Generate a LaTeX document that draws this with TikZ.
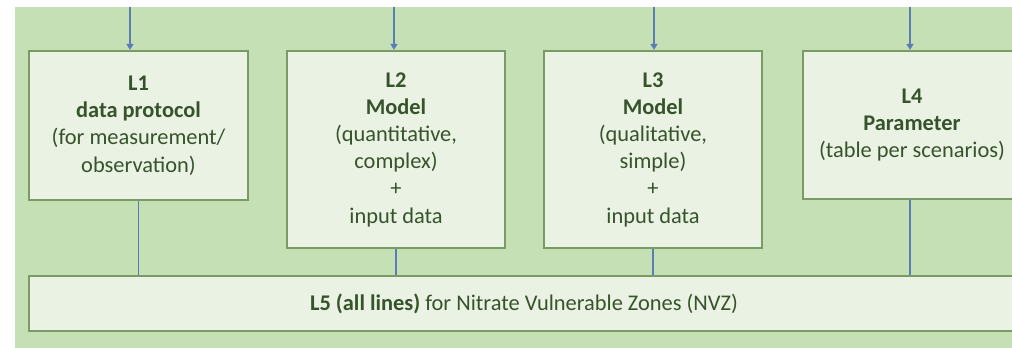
\documentclass[tikz,border=0pt]{standalone}
\usepackage{fontspec}
\setmainfont{Carlito}
\usetikzlibrary{arrows.meta}

\definecolor{bggreen}{HTML}{C5E0B4}
\definecolor{boxfill}{HTML}{EAF2E4}
\definecolor{boxedge}{HTML}{7A9A66}
\definecolor{txtgreen}{HTML}{37532B}
\definecolor{linkblue}{HTML}{5A7DB8}

\tikzset{
  level/.style={draw=boxedge, line width=1.1pt, fill=boxfill, text=txtgreen,
    align=center, inner sep=0pt, font=\fontsize{11.2}{13.6}\selectfont},
  link/.style={draw=linkblue, line width=0.6pt},
  feed/.style={link, -{Triangle[length=3pt,width=3.5pt]}},
}

\begin{document}
\begin{tikzpicture}[x=0.5pt,y=0.5pt]
   \useasboundingbox (0,0) rectangle (1012,348);
   \fill[bggreen] (15,0) rectangle (1012,341);
   % the four line boxes
   \node[level, minimum width=109.5pt, minimum height=74.5pt] (l1) at (138.5,222.5)
     {\textbf{L1}\\\textbf{data protocol}\\(for measurement/\\observation)};
   \node[level, minimum width=109pt, minimum height=98.5pt] (l2) at (396,198.5)
     {\textbf{L2}\\\textbf{Model}\\(quantitative,\\complex)\\+\\input data};
   \node[level, minimum width=109pt, minimum height=98.5pt] (l3) at (653,198.5)
     {\textbf{L3}\\\textbf{Model}\\(qualitative,\\simple)\\+\\input data};
   \node[level, minimum width=109pt, minimum height=74pt] (l4) at (912,223)
     {\textbf{L4}\\\textbf{Parameter}\\(table per scenarios)};
   % common bar underneath
   \node[level, minimum width=495pt, minimum height=27.5pt] (l5) at (524,44.5)
     {\textbf{L5 (all lines)} for Nitrate Vulnerable Zones (NVZ)};
   % inputs from above
   \coordinate (t1) at (130,341);
   \coordinate (t2) at (394,341);
   \coordinate (t3) at (654,341);
   \coordinate (t4) at (910,341);
   \draw[feed] (t1) -- (t1 |- l1.north);
   \draw[feed] (t2) -- (t2 |- l2.north);
   \draw[feed] (t3) -- (t3 |- l3.north);
   \draw[feed] (t4) -- (t4 |- l4.north);
   % links down to L5
   \draw[link] (l1.south) -- (l1.south |- l5.north);
   \draw[link] (l2.south) -- (l2.south |- l5.north);
   \draw[link] (l3.south) -- (l3.south |- l5.north);
   \draw[link] ([xshift=-1pt]l4.south) -- ([xshift=-1pt]l4.south |- l5.north);
\end{tikzpicture}
\end{document}
